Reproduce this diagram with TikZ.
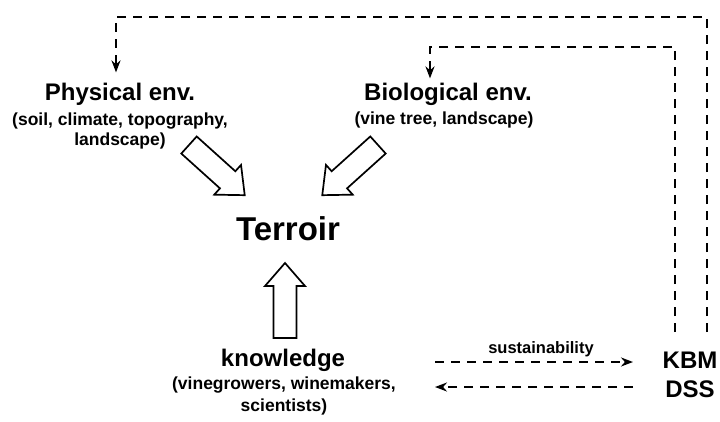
\documentclass[tikz,border=0pt]{standalone}
\usepackage{fontspec}
\setmainfont{Liberation Sans}
\usetikzlibrary{arrows.meta}
\begin{document}
\begin{tikzpicture}[x=1pt,y=-1pt,
  ttl/.style={font=\fontsize{24}{27}\selectfont\bfseries, inner sep=0pt, anchor=base},
  subl/.style={font=\fontsize{17.5}{20}\selectfont\bfseries, inner sep=0pt, anchor=base},
  big/.style={font=\fontsize{33}{38}\selectfont\bfseries, inner sep=0pt, anchor=base},
  kb/.style={font=\fontsize{24}{28}\selectfont\bfseries, inner sep=0pt, anchor=base},
  lbl/.style={font=\fontsize{16.5}{18}\selectfont\bfseries, inner sep=0pt, anchor=base},
  dsh/.style={line width=2.6pt, dash pattern=on 9pt off 7pt, -{Stealth[length=12pt,width=9pt]}},
  hollow/.pic={\draw[line width=1.7pt, line join=miter, fill=white]
     (0,-11.5)--(52,-11.5)--(52,-20)--(75,0)--(52,20)--(52,11.5)--(0,11.5)--cycle;}]
\useasboundingbox[fill=white] (0,0) rectangle (720,421);

% texts
\node[ttl] (phys) at (120,100) {Physical env.};
\node[subl] (physA) at (120,125) {(soil, climate, topography,};
\node[subl] (physB) at (120,145) {landscape)};
\node[ttl] (bio) at (448,100) {Biological env.};
\node[subl] (bioA) at (444,124) {(vine tree, landscape)};
\node[big] (terroir) at (288,240) {Terroir};
\node[ttl] (know) at (283,366) {knowledge};
\node[subl] (knowA) at (284,389) {(vinegrowers, winemakers,};
\node[subl] (knowB) at (284,411) {scientists)};
\node[kb] (kbm) at (690,368) {KBM};
\node[kb] (dss) at (690,397) {DSS};
\node[lbl] (sus) at (541,353) {sustainability};

% hollow arrows
\pic[rotate=-42] at (189,145) {hollow};
\pic[rotate=-138] at (378,145) {hollow};
\pic[rotate=90] at (285,338) {hollow};

% dashed feedback lines
\coordinate (outS) at (707,332);
\coordinate (inS) at (675,332);
\draw[dsh] (outS) |- (116,17) -- ([xshift=-4pt,yshift=10pt]phys.north);
\draw[dsh] (inS) |- (430,47) -- ([xshift=-18pt,yshift=4pt]bio.north);

% horizontal dashed arrows
\coordinate (r1s) at (435,362);
\coordinate (r1e) at (633,362);
\coordinate (r2s) at (633,387);
\coordinate (r2e) at (435,387);
\draw[dsh] (r1s) -- (r1e);
\draw[dsh] (r2s) -- (r2e);
\end{tikzpicture}
\end{document}
